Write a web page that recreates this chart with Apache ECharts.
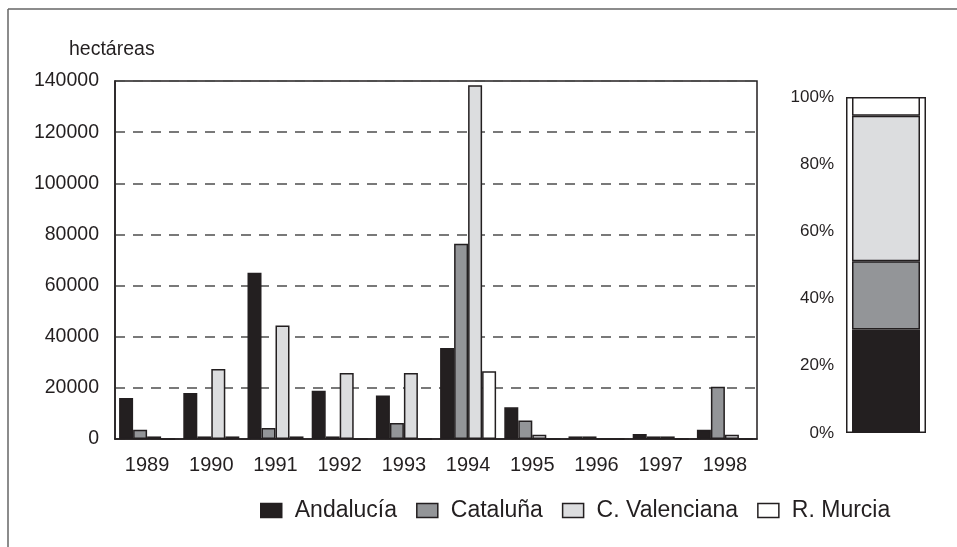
<!DOCTYPE html>
<html>
<head>
<meta charset="utf-8">
<script src="https://cdn.jsdelivr.net/npm/echarts@6/dist/echarts.min.js"></script>
<style>
  html, body { margin: 0; padding: 0; background: #fff; }
  #chart { width: 957px; height: 547px; }
</style>
</head>
<body>
<div id="chart"></div>
<script>
const years = ['1989', '1990', '1991', '1992', '1993', '1994', '1995', '1996', '1997', '1998'];
const andalucia = [16000, 18000, 65000, 18900, 17000, 35600, 12400, 1000, 2000, 3600];
const cataluna = [3600, 1000, 4300, 1000, 6300, 76400, 7200, 1000, 1000, 20400];
const valenciana = [1000, 27400, 44400, 25800, 25800, 138300, 1700, 0, 1000, 1700];
const murcia = [0, 1000, 1000, 0, 0, 26500, 0, 0, 0, 0];
// share of the whole period, right-hand column (%)
const shares = [30.8, 20.3, 43.3, 5.6];
const regionNames = ['Andalucía', 'Cataluña', 'C. Valenciana', 'R. Murcia'];
const yTicks = [0, 20000, 40000, 60000, 80000, 100000, 120000, 140000];

const ink = '#231f20';
const fills = ['#231f20', '#939598', '#dcdddf', '#ffffff'];
const font = 'Liberation Sans, Arial, sans-serif';

const chart = echarts.init(document.getElementById('chart'));

const mainSeries = [andalucia, cataluna, valenciana, murcia].map((vals, i) => ({
  name: regionNames[i],
  type: 'bar',
  xAxisIndex: 0,
  yAxisIndex: 0,
  data: vals,
  barWidth: 14,
  barGap: '0%',
  itemStyle: { color: fills[i], borderColor: ink, borderWidth: 1.5 },
}));

const shareSeries = shares.map((v, i) => ({
  name: regionNames[i],
  type: 'bar',
  xAxisIndex: 2,
  yAxisIndex: 1,
  stack: 'share',
  data: [v],
  barWidth: 68,
  z: 3,
  itemStyle: { color: fills[i], borderColor: ink, borderWidth: 1.5 },
}));

const opts = {
  animation: false,
  backgroundColor: '#fff',
  title: {
    text: 'hectáreas',
    left: 64,
    top: 35,
    textStyle: { fontFamily: font, fontSize: 19.5, fontWeight: 'normal', color: ink },
  },
  legend: {
    data: regionNames,
    left: 255,
    top: 494,
    icon: 'rect',
    itemWidth: 21,
    itemHeight: 14,
    itemGap: 19,
    textStyle: { fontFamily: font, fontSize: 23, color: ink, padding: [0, 0, 0, 8] },
    itemStyle: { borderColor: ink, borderWidth: 1.5 },
  },
  grid: [
    { left: 115, right: 200, top: 81, bottom: 108, show: true, borderColor: ink, borderWidth: 1.5 },
    { left: 846, right: 31, top: 97, bottom: 114 },
  ],
  xAxis: [
    {
      type: 'category',
      gridIndex: 0,
      data: years,
      axisLine: { lineStyle: { color: ink, width: 1.5 } },
      axisTick: { show: false },
      axisLabel: { fontFamily: font, fontSize: 20, color: ink, margin: 16 },
    },
    { type: 'category', gridIndex: 1, data: ['total'], show: false },
    { type: 'category', gridIndex: 1, data: ['total'], show: false },
  ],
  yAxis: [
    {
      type: 'value',
      gridIndex: 0,
      min: 0,
      max: 140000,
      interval: 20000,
      axisLine: { show: true, lineStyle: { color: ink, width: 1.5 } },
      axisTick: { show: false },
      axisLabel: {
        fontFamily: font, fontSize: 19.5, color: ink, margin: 16,
        formatter: (v) => (yTicks.includes(v) ? String(v) : ''),
      },
      splitLine: { lineStyle: { color: '#4d4d4d', width: 1.5, type: [10, 8] } },
    },
    {
      type: 'value',
      gridIndex: 1,
      min: 0,
      max: 100,
      interval: 20,
      axisLine: { show: false },
      axisTick: { show: false },
      splitLine: { show: false },
      axisLabel: { fontFamily: font, fontSize: 17, color: ink, margin: 12, formatter: '{value}%' },
    },
  ],
  series: [
    ...mainSeries,
    {
      name: 'frame',
      type: 'bar',
      xAxisIndex: 1,
      yAxisIndex: 1,
      data: [100],
      barWidth: 80,
      silent: true,
      z: 1,
      itemStyle: { color: '#fff', borderColor: ink, borderWidth: 1.5 },
    },
    ...shareSeries,
  ],
  graphic: [
    { type: 'line', shape: { x1: 8, y1: 9, x2: 957, y2: 9 }, style: { stroke: '#666', lineWidth: 1.5 } },
    { type: 'line', shape: { x1: 8, y1: 9, x2: 8, y2: 547 }, style: { stroke: '#666', lineWidth: 1.5 } },
  ],
};

chart.setOption(opts);
</script>
</body>
</html>
